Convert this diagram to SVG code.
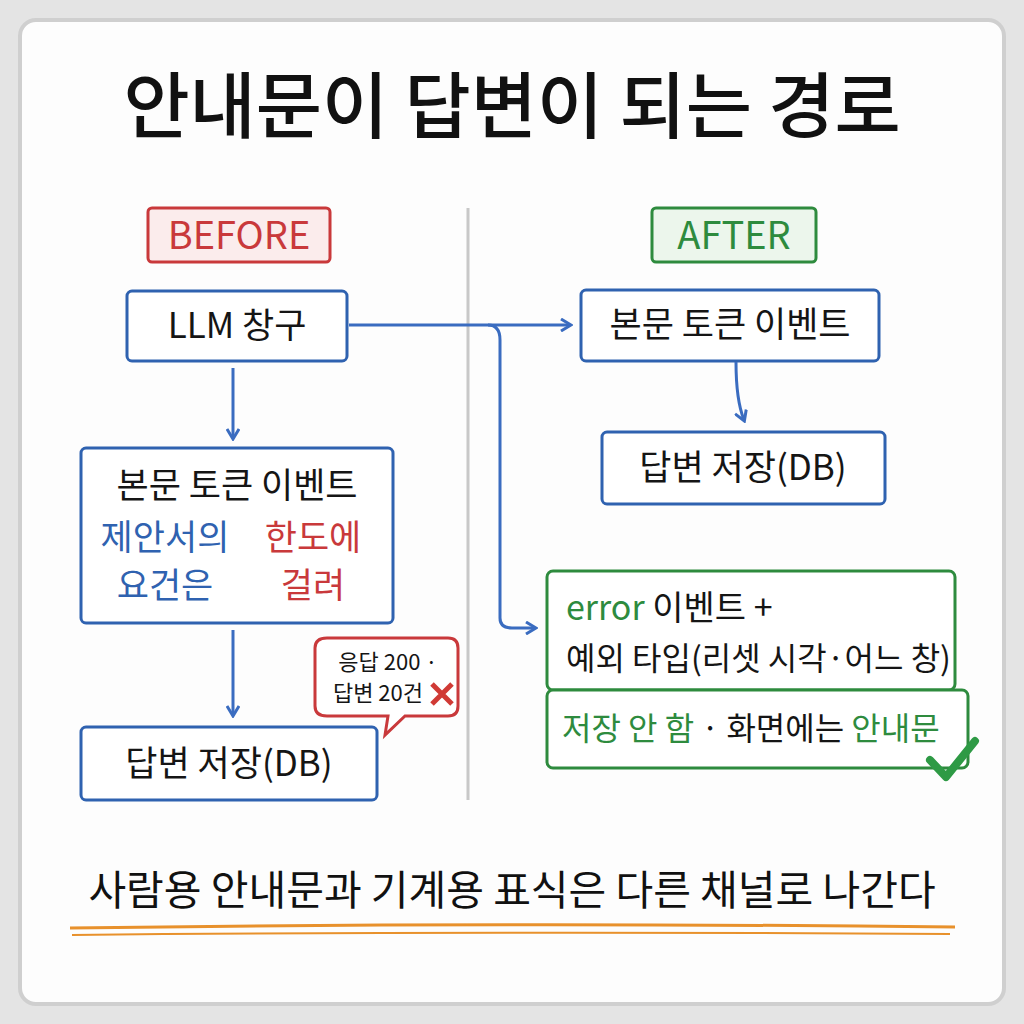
<svg xmlns="http://www.w3.org/2000/svg" width="1024" height="1024" viewBox="0 0 1024 1024">
<style>
text{font-family:"Noto Sans CJK KR","Noto Sans",sans-serif;}
.b{fill:#fff;stroke:#2f62b0;stroke-width:3}
.g{fill:#fff;stroke:#2e8b3e;stroke-width:3}
.t{fill:#151515;font-size:35px}
.c{stroke:#3a6cc0;stroke-width:3;fill:none}
</style>
<defs><marker id="ah" markerWidth="14" markerHeight="14" refX="11" refY="7" orient="auto" markerUnits="userSpaceOnUse"><path d="M2,1 L12,7 L2,13" fill="none" stroke="#3a6cc0" stroke-width="3"/></marker></defs>
<rect width="1024" height="1024" fill="#e4e4e4"/>
<rect x="20" y="20" width="984" height="984" rx="16" fill="#fdfdfd" stroke="#cfcfcf" stroke-width="4"/>
<text x="512" y="132" text-anchor="middle" font-size="72" font-weight="500" fill="#111">안내문이 답변이 되는 경로</text>
<line x1="468" y1="208" x2="468" y2="800" stroke="#c8c8c8" stroke-width="3"/>
<g id="before"><rect x="148" y="208" width="182" height="54" rx="4" fill="#fbecec" stroke="#c9393b" stroke-width="3"/><text x="239" y="249" text-anchor="middle" font-size="38" fill="#c9393b">BEFORE</text></g>
<g id="after"><rect x="652" y="208" width="164" height="54" rx="4" fill="#ecf6ec" stroke="#2e8b3e" stroke-width="3"/><text x="734" y="249" text-anchor="middle" font-size="38" fill="#2e8b3e">AFTER</text></g>
<g id="llm"><rect class="b" x="127" y="291" width="220" height="70" rx="5"/><text class="t" x="237" y="338" text-anchor="middle">LLM 창구</text></g>
<g id="bstream"><rect class="b" x="81" y="448" width="312" height="175" rx="5"/>
<text class="t" x="237" y="498" text-anchor="middle">본문 토큰 이벤트</text>
<text x="165" y="550" text-anchor="middle" font-size="35" fill="#2f62b0">제안서의</text>
<text x="165" y="598" text-anchor="middle" font-size="35" fill="#2f62b0">요건은</text>
<text x="313" y="550" text-anchor="middle" font-size="35" fill="#c9393b">한도에</text>
<text x="313" y="598" text-anchor="middle" font-size="35" fill="#c9393b">걸려</text></g>
<g id="bubble"><path d="M327,638 H448 Q458,638 458,648 V706 Q458,716 448,716 H405 L385,735 L388,716 H327 Q315,716 315,706 V648 Q315,638 327,638 Z" fill="#fff" stroke="#c9393b" stroke-width="3"/>
<text x="388" y="670" text-anchor="middle" font-size="22" fill="#151515">응답 200 ·</text>
<text x="378" y="701" text-anchor="middle" font-size="22" fill="#151515">답변 20건</text>
<path d="M432,684 L452,704 M452,684 L432,704" stroke="#d03a35" stroke-width="5"/></g>
<g id="bdb"><rect class="b" x="81" y="727" width="296" height="73" rx="5"/><text class="t" x="229" y="776" text-anchor="middle">답변 저장(DB)</text></g>
<g id="astream"><rect class="b" x="581" y="290" width="298" height="71" rx="5"/><text class="t" x="730" y="337" text-anchor="middle">본문 토큰 이벤트</text></g>
<g id="adb"><rect class="b" x="602" y="432" width="283" height="72" rx="5"/><text class="t" x="743" y="480" text-anchor="middle">답변 저장(DB)</text></g>
<g id="err"><rect class="g" x="547" y="571" width="408" height="119" rx="6"/>
<text x="566" y="620" font-size="34" fill="#151515"><tspan fill="#2e8b3e">error</tspan> 이벤트 +</text>
<text x="566" y="670" font-size="32" fill="#151515">예외 타입(리셋 시각·어느 창)</text></g>
<g id="save"><rect class="g" x="547" y="690" width="421" height="78" rx="6"/>
<text x="562" y="740" font-size="32" fill="#151515"><tspan fill="#2e8b3e">저장 안 함</tspan> · 화면에는 <tspan fill="#2e8b3e">안내문</tspan></text>
<path d="M930,760 L946,777 L975,741" fill="none" stroke="#2e9a45" stroke-width="8" stroke-linecap="round" stroke-linejoin="round"/></g>
<g id="connectors">
<line class="c" x1="233" y1="368" x2="233" y2="438" marker-end="url(#ah)"/>
<line class="c" x1="233" y1="630" x2="233" y2="715" marker-end="url(#ah)"/>
<line class="c" x1="349" y1="325" x2="570" y2="325" marker-end="url(#ah)"/>
<path class="c" d="M488,325 Q500,325 500,340 V618 Q500,628 512,628 H535" marker-end="url(#ah)"/>
<path class="c" d="M736,362 Q736,400 744,420" marker-end="url(#ah)"/>
</g>
<text x="512" y="905" text-anchor="middle" font-size="41" fill="#111">사람용 안내문과 기계용 표식은 다른 채널로 나간다</text>
<path d="M70,928 Q500,922 955,927" stroke="#e8912c" stroke-width="3" fill="none"/>
<path d="M72,935 Q500,931 950,934" stroke="#e8912c" stroke-width="2" fill="none"/>
</svg>
